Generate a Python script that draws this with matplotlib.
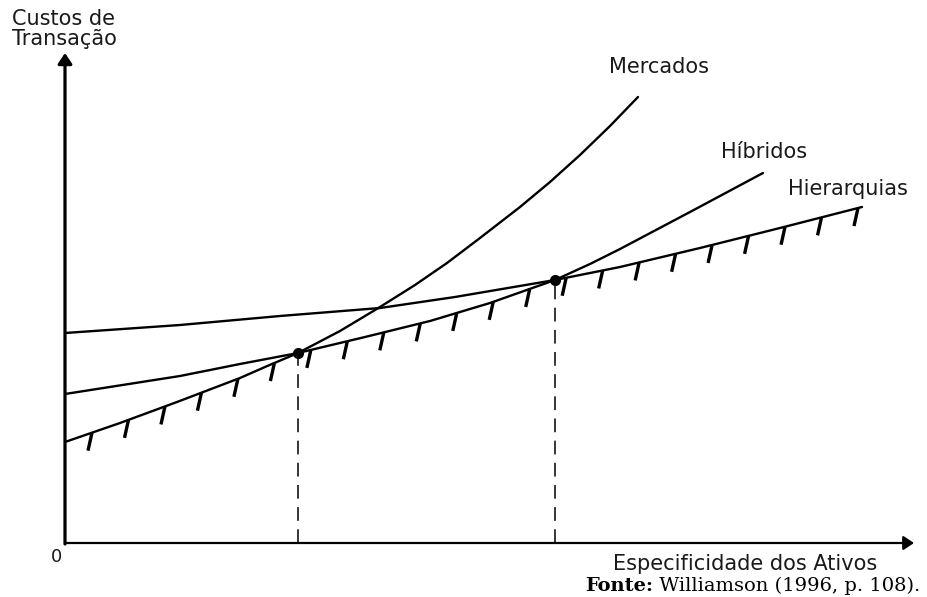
import numpy as np
import matplotlib
matplotlib.use("Agg")
import matplotlib.pyplot as plt

# curves (x = asset specificity, y = transaction cost)
mercados_x = [0, 55, 112, 175, 200, 233, 275, 315, 350, 382, 415, 455, 485, 515, 545, 573]
mercados_y = [101, 120, 141, 165, 176, 190, 212, 236, 258, 280, 305, 336, 361, 388, 417, 446]
hibridos_x = [0, 115, 175, 233, 300, 365, 425, 490, 525, 555, 625, 698]
hibridos_y = [149, 167, 179, 190, 206, 222, 240, 263, 279, 294, 331, 370]
hierarquias_x = [0, 115, 215, 315, 390, 490, 555, 635, 715, 797]
hierarquias_y = [210, 218, 227, 235, 246, 263, 276, 295, 315, 336]

# switch points k1, k2
cross_x = [233, 490]
cross_y = [190, 263]

fig = plt.figure(figsize=(9.28, 5.97), dpi=100)
ax = fig.add_axes([0, 0, 1, 1])
ax.set_xlim(-65, 863)
ax.set_ylim(-54, 543)
ax.axis("off")

# axes with arrows
arrow = dict(arrowstyle="-|>,head_length=0.45,head_width=0.3",
             color="black", shrinkA=0, shrinkB=0, mutation_scale=14)
ax.annotate("", xy=(0, 490), xytext=(0, -1),
            arrowprops=dict(arrow, lw=2.3))
ax.annotate("", xy=(849, 0), xytext=(0, 0),
            arrowprops=dict(arrow, lw=1.6))

lw = 1.7
for xs, ys in [(mercados_x, mercados_y), (hibridos_x, hibridos_y),
               (hierarquias_x, hierarquias_y)]:
    ax.plot(xs, ys, color="black", lw=lw, solid_capstyle="round",
            solid_joinstyle="round")

# lower envelope with hatch marks underneath
mx, my = np.array(mercados_x), np.array(mercados_y)
hx, hy = np.array(hibridos_x), np.array(hibridos_y)
rx, ry = np.array(hierarquias_x), np.array(hierarquias_y)
m1 = mx <= cross_x[0]
m2 = (hx > cross_x[0]) & (hx <= cross_x[1])
m3 = rx > cross_x[1]
env_x = np.concatenate([mx[m1], hx[m2], rx[m3]])
env_y = np.concatenate([my[m1], hy[m2], ry[m3]])
tick_x = np.linspace(27, 793, 22)
tick_y = np.interp(tick_x, env_x, env_y)
for tx, ty in zip(tick_x, tick_y):
    ax.plot([tx, tx - 4], [ty, ty - 18], color="black", lw=2.4, solid_capstyle="butt")

ax.vlines(cross_x, 0, cross_y, colors="black", lw=1.1, linestyles=(0, (9, 5.5)))
ax.plot(cross_x, cross_y, "o", color="black", ms=7)

txt = dict(family="DejaVu Sans", fontsize=15, color="#1a1a1a", va="baseline")
ax.text(-53, 518, "Custos de", **txt)
ax.text(-53, 498, "Transação", **txt)
ax.text(544, 470, "Mercados", **txt)
ax.text(656, 385, "Híbridos", **txt)
ax.text(723, 348, "Hierarquias", **txt)
ax.text(548, -27, "Especificidade dos Ativos", **txt)
ax.text(-8, -19, "0", ha="center", **dict(txt, fontsize=13))

src = ax.text(520, -48, "Fonte:", family="DejaVu Serif", fontsize=14,
              fontweight="bold", va="baseline")
ax.annotate(" Williamson (1996, p. 108).", xy=(1, 0), xycoords=src,
            va="bottom", ha="left", family="DejaVu Serif", fontsize=14)

fig.savefig("out.png", dpi=100)
